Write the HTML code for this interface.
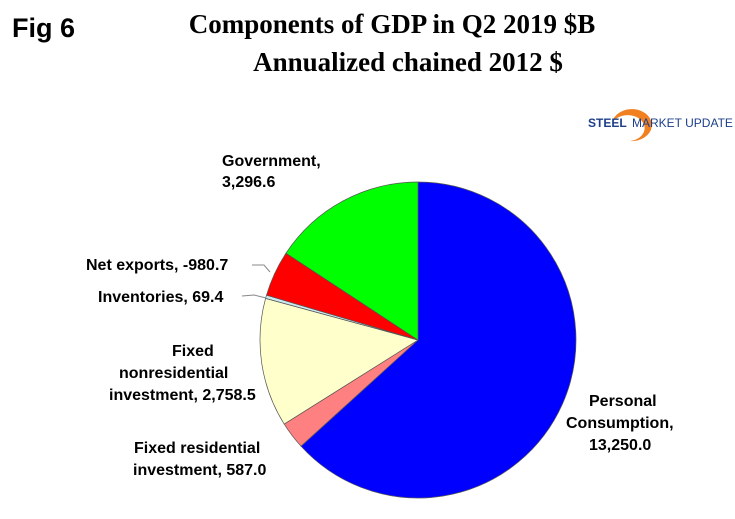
<!DOCTYPE html>
<html><head><meta charset="utf-8"><style>
body{margin:0;width:735px;height:514px;background:#fff;overflow:hidden;font-family:"Liberation Sans",sans-serif}
</style></head><body>
<svg width="735" height="514">
<text x="12" y="37" font-size="27" font-weight="bold" font-family="Liberation Sans">Fig 6</text>
<text x="392" y="33" text-anchor="middle" font-size="27" font-weight="bold" font-family="Liberation Serif">Components of GDP in Q2 2019 $B</text>
<text x="408" y="71" text-anchor="middle" font-size="27" font-weight="bold" font-family="Liberation Serif">Annualized chained 2012 $</text>
<g>
<path d="M612 123 A20 16 0 1 1 630 141 A17 13 0 1 0 612 123Z" fill="#f08020"/>
<text x="588" y="127" font-size="12" font-weight="bold" fill="#1d3f8a">STEEL</text>
<text x="632" y="127" font-size="12" fill="#1d3f8a">MARKET UPDATE</text>
</g>
<g id="pie"></g>
<g id="labels" font-size="16" font-weight="bold" font-family="Liberation Sans">
<text><tspan x="222" y="166">Government,</tspan><tspan x="222" y="187">3,296.6</tspan></text>
<text x="86" y="270">Net exports, -980.7</text>
<text x="98" y="302">Inventories, 69.4</text>
<text><tspan x="172" y="356">Fixed</tspan><tspan x="119" y="378">nonresidential</tspan><tspan x="109" y="400">investment, 2,758.5</tspan></text>
<text><tspan x="134" y="453">Fixed residential</tspan><tspan x="133" y="475">investment, 587.0</tspan></text>
<text><tspan x="589" y="406">Personal</tspan><tspan x="566" y="428">Consumption,</tspan><tspan x="589" y="450">13,250.0</tspan></text>
</g>
<polyline points="252,265 264,265 270,272" fill="none" stroke="#888"/>
<polyline points="242,296 254,295 266,298" fill="none" stroke="#888"/>
</svg>
<script>
const categories=["Personal Consumption","Fixed residential","Fixed nonresidential","Inventories","Net exports","Government"];
const values=[13250.0,587.0,2758.5,69.4,-980.7,3296.6];
const colors=["#0000ff","#ff8080","#ffffcc","#cce8f0","#ff0000","#00ff00"];
const cx=418,cy=340,r=158;
const total=values.reduce((a,b)=>a+Math.abs(b),0);
const g=document.getElementById('pie');
let a=0;
function pt(t){return [cx+r*Math.sin(t),cy-r*Math.cos(t)];}
values.forEach((v,i)=>{
 const da=Math.abs(v)/total*2*Math.PI;
 const p0=pt(a),p1=pt(a+da);
 const p=document.createElementNS('http://www.w3.org/2000/svg','path');
 p.setAttribute('d',`M${cx},${cy} L${p0[0]},${p0[1]} A${r},${r} 0 ${da>Math.PI?1:0} 1 ${p1[0]},${p1[1]} Z`);
 p.setAttribute('fill',colors[i]);
 p.setAttribute('stroke','#555');
 p.setAttribute('stroke-width','0.7');
 
 
 g.appendChild(p);
 a+=da;
});
</script>
</body></html>
